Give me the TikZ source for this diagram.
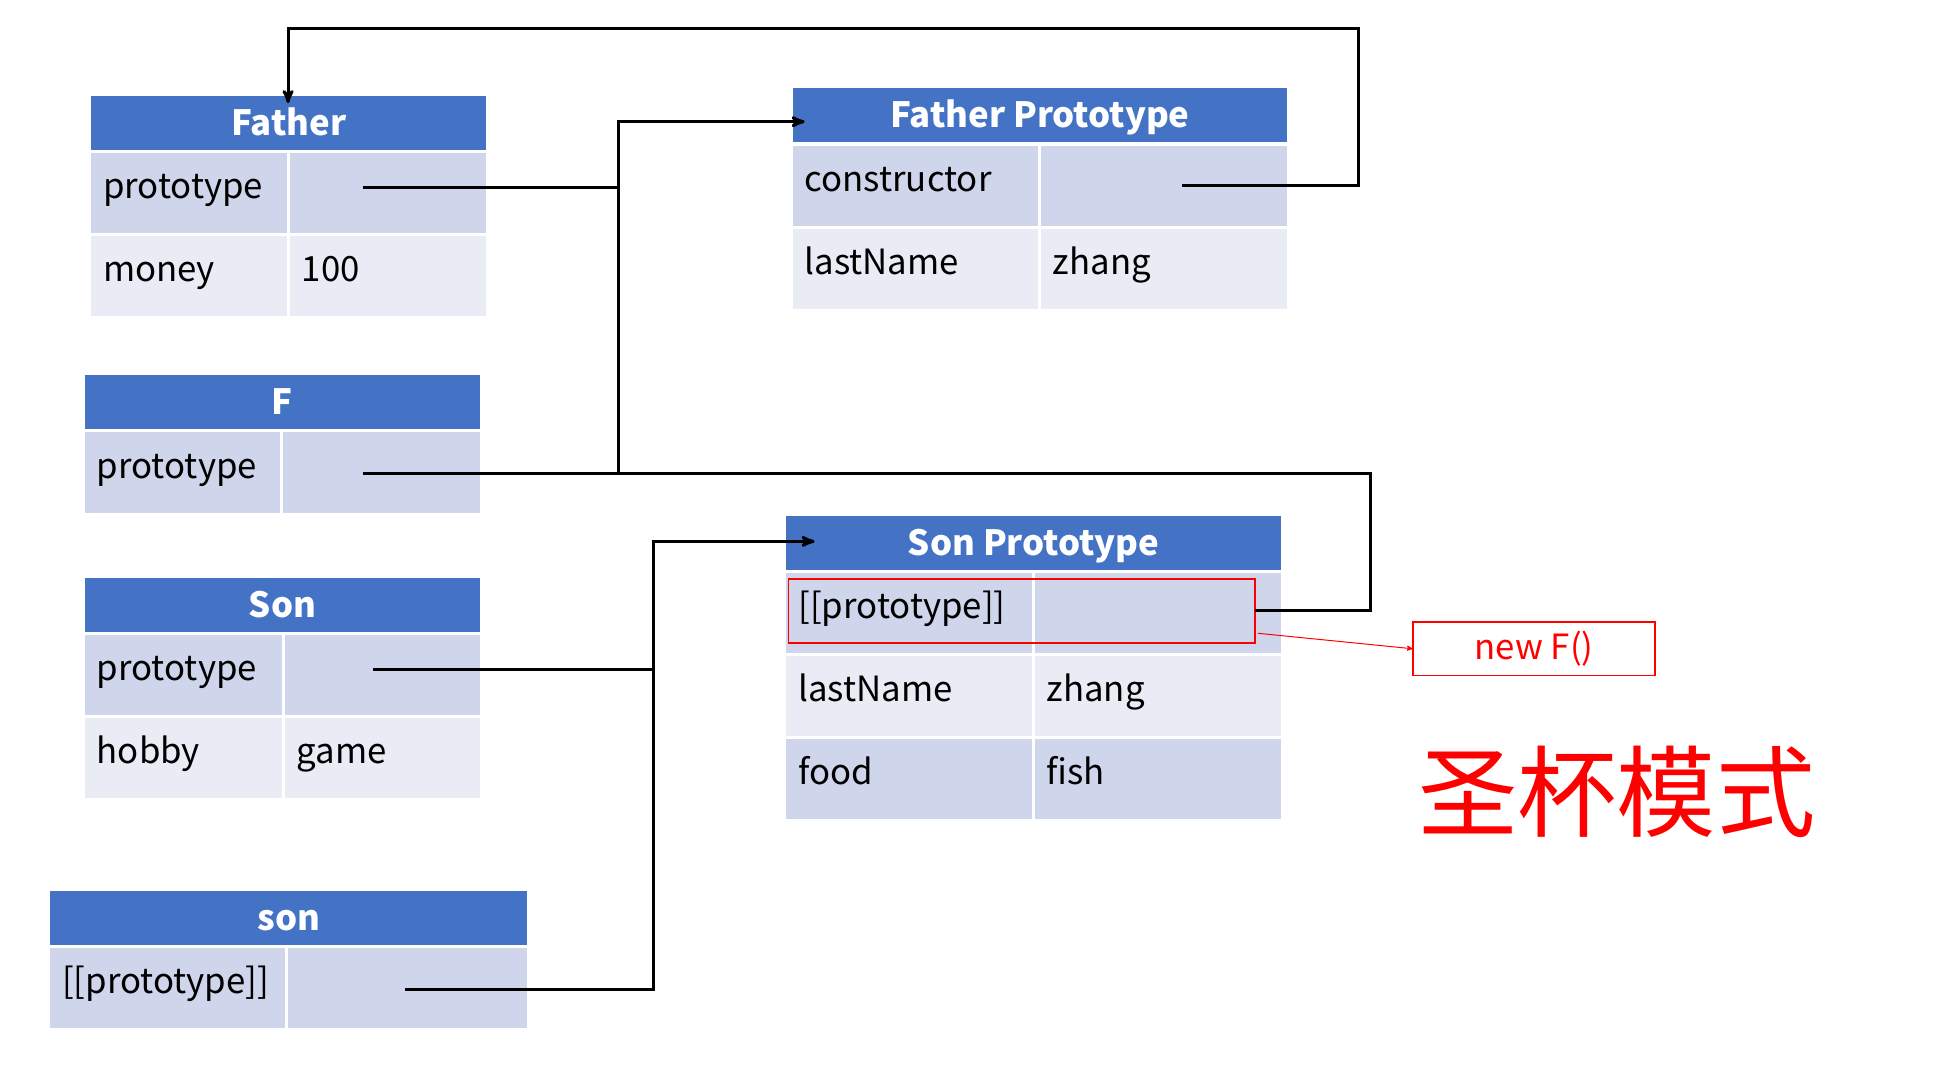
\documentclass[tikz,border=0pt]{standalone}
\usepackage{fontspec}
\setmainfont{Noto Sans CJK SC}
\usetikzlibrary{arrows}

\definecolor{hdblue}{HTML}{4472C4}
\definecolor{rowdark}{HTML}{CFD5EA}
\definecolor{rowlight}{HTML}{E9EBF5}
\newcommand\bodyfont{\fontsize{28}{33}\selectfont}

\begin{document}
\begin{tikzpicture}[x=1pt,y=-1pt,>=stealth',line width=2.4pt,
    cell/.style={draw=white,line width=2.5pt,outer sep=0pt,anchor=north west,
                 inner xsep=11pt,inner ysep=0pt,text height=38pt,text depth=29pt,
                 align=left,font=\bodyfont},
    head/.style={draw=white,line width=2.5pt,outer sep=0pt,anchor=north west,
                 fill=hdblue,text=white,inner sep=0pt,minimum height=46pt,
                 text height=22pt,text depth=2pt,font=\bodyfont\bfseries},
    redframe/.style={draw=red,line width=1.6pt,outer sep=0pt,anchor=north west,inner sep=0pt}]
  \useasboundingbox (0,0) rectangle (1568,870);

  % Father
  \node[head,minimum width=321pt] (fath) at (72,76) {Father};
  \node[cell,fill=rowdark,text width=138pt]  (fath-k1) at (fath.south west)    {prototype};
  \node[cell,fill=rowdark,text width=139pt]  (fath-v1) at (fath-k1.north east) {};
  \node[cell,fill=rowlight,text width=138pt] (fath-k2) at (fath-k1.south west) {money};
  \node[cell,fill=rowlight,text width=139pt] (fath-v2) at (fath-k2.north east) {100};

  % Father Prototype
  \node[head,minimum width=401pt] (fpro) at (637,70) {Father Prototype};
  \node[cell,fill=rowdark,text width=178pt]  (fpro-k1) at (fpro.south west)    {constructor};
  \node[cell,fill=rowdark,text width=179pt]  (fpro-v1) at (fpro-k1.north east) {};
  \node[cell,fill=rowlight,text width=178pt] (fpro-k2) at (fpro-k1.south west) {lastName};
  \node[cell,fill=rowlight,text width=179pt] (fpro-v2) at (fpro-k2.north east) {zhang};

  % F
  \node[head,minimum width=321pt] (ff) at (67,301) {F};
  \node[cell,fill=rowdark,text width=138pt] (ff-k1) at (ff.south west)    {prototype};
  \node[cell,fill=rowdark,text width=139pt] (ff-v1) at (ff-k1.north east) {};

  % Son
  \node[head,minimum width=321pt] (son) at (67,464) {Son};
  \node[cell,fill=rowdark,text width=139pt]  (son-k1) at (son.south west)    {prototype};
  \node[cell,fill=rowdark,text width=138pt]  (son-v1) at (son-k1.north east) {};
  \node[cell,fill=rowlight,text width=139pt] (son-k2) at (son-k1.south west) {hobby};
  \node[cell,fill=rowlight,text width=138pt] (son-v2) at (son-k2.north east) {game};

  % Son Prototype
  \node[head,minimum width=401pt] (spro) at (632,414) {Son Prototype};
  \node[cell,fill=rowdark,text width=178pt]  (spro-k1) at (spro.south west)    {[[prototype]]};
  \node[cell,fill=rowdark,text width=179pt]  (spro-v1) at (spro-k1.north east) {};
  \node[cell,fill=rowlight,text width=178pt] (spro-k2) at (spro-k1.south west) {lastName};
  \node[cell,fill=rowlight,text width=179pt] (spro-v2) at (spro-k2.north east) {zhang};
  \node[cell,fill=rowdark,text width=178pt]  (spro-k3) at (spro-k2.south west) {food};
  \node[cell,fill=rowdark,text width=179pt]  (spro-v3) at (spro-k3.north east) {fish};

  % son
  \node[head,minimum width=387pt] (inst) at (39,716) {son};
  \node[cell,fill=rowdark,text width=170pt] (inst-k1) at (inst.south west)    {[[prototype]]};
  \node[cell,fill=rowdark,text width=173pt] (inst-v1) at (inst-k1.north east) {};

  % red marks
  \node[redframe,minimum width=376pt,minimum height=52pt] (pick) at (635,466) {};
  \node[redframe,minimum width=195pt,minimum height=43pt,text=red,font=\bodyfont]
       (newf) at (1138,501) {new F()};
  \node[text=red,font=\fontsize{80}{90}\selectfont] (title) at (1302,638) {圣杯模式};

  % connector points
  \coordinate (fathS) at (292,151);
  \coordinate (ffS)   at (292,381);
  \coordinate (sonS)  at (300,539);
  \coordinate (instS) at (326,797);
  \coordinate (consS) at (952,149);
  \coordinate (pickS) at (1013,510);
  \coordinate (jA) at (498,151);
  \coordinate (jB) at (498,381);
  \coordinate (jC) at (526,539);
  \coordinate (jD) at (1104,381);
  \coordinate (jE) at (1094,23);
  \coordinate (fproIn) at (648,98);
  \coordinate (sproIn) at (656,436);
  \coordinate (fathIn) at (232,83);

  \draw[->] (fathS) -- (jA) |- (fproIn);
  \draw (ffS) -- (jB) -- (jA);
  \draw (pick.east) -| (jD) -- (jB);
  \draw (sonS) -- (jC);
  \draw[->] (instS) -| (jC) |- (sproIn);
  \draw[->] (consS) -| (jE) -| (fathIn);
  \draw[red,line width=0.8pt,->] (pickS) -- (newf.west);
\end{tikzpicture}
\end{document}
